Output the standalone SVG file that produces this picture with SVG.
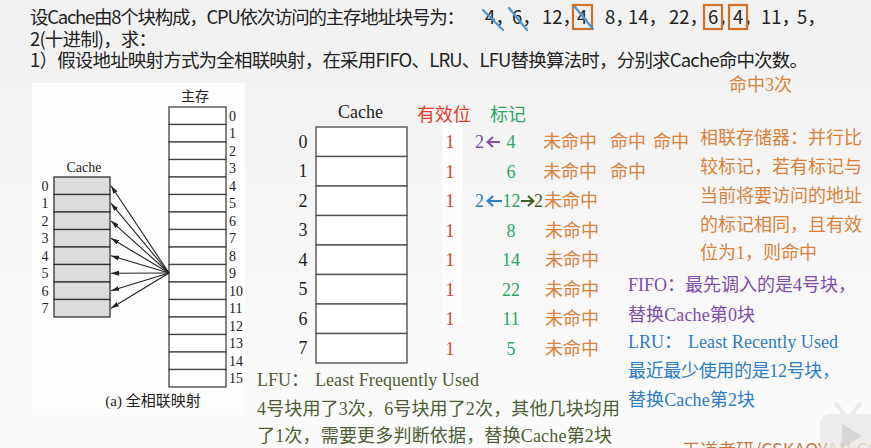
<svg xmlns="http://www.w3.org/2000/svg" width="871" height="448" viewBox="0 0 871 448">
<defs>
<linearGradient id="bg" x1="0" y1="0" x2="0" y2="1">
<stop offset="0" stop-color="#f1f1f1"/>
<stop offset="1" stop-color="#fbfbfb"/>
</linearGradient>
<marker id="ah" markerUnits="userSpaceOnUse" markerWidth="9" markerHeight="6" refX="8" refY="3" orient="auto">
<path d="M0,0.6 L8,3 L0,5.4 Z" fill="#222"/>
</marker>
<style>
.hd{font-family:"Noto Sans CJK SC","Liberation Sans",sans-serif;font-size:18.5px;fill:#222}
.sr{font-family:"Liberation Serif","Noto Sans CJK SC",serif}
.sm{font-size:14px;fill:#222}
.md{font-size:18px;fill:#222}
.t18{font-size:18px}
.red{fill:#e33b2b}
.grn{fill:#2ea466}
.org{fill:#d9823b}
.pur{fill:#7e4ea8}
.blu{fill:#2e7cc4}
.dgr{fill:#3e5e28}
.olv{fill:#4e5e34}
.cell{fill:#fff;stroke:#444;stroke-width:1.3}
.gcell{fill:#dcdcdc;stroke:#333;stroke-width:1.3}
.mcell{fill:#fff;stroke:#555;stroke-width:1.4}
.arr{stroke:#222;stroke-width:1.1;fill:none;marker-end:url(#ah)}
.box{fill:none;stroke:#d06f25;stroke-width:2.2}
.cross{stroke:#4a95d6;stroke-width:2.2;stroke-linecap:round}
</style>
</defs>
<rect x="0" y="0" width="871" height="448" fill="url(#bg)"/>
<rect x="32" y="83" width="213" height="332" fill="#fdfdfd"/>
<rect x="442" y="121" width="21" height="205" fill="#fcfcfc"/>

<g id="header">
<text class="hd" x="30" y="24" textLength="435" lengthAdjust="spacing">设Cache由8个块构成，CPU依次访问的主存地址块号为：</text>
<text class="hd" y="24"><tspan x="485">4，</tspan><tspan x="512">6，</tspan><tspan x="542">12，</tspan><tspan x="577">4</tspan><tspan x="605">8，</tspan><tspan x="628">14，</tspan><tspan x="669">22，</tspan><tspan x="708">6，</tspan><tspan x="733">4，</tspan><tspan x="761">11，</tspan><tspan x="797">5，</tspan></text>
<text class="hd" x="30" y="46" textLength="127" lengthAdjust="spacing">2(十进制)，求：</text>
<text class="hd" x="30" y="67" textLength="778" lengthAdjust="spacing">1）假设地址映射方式为全相联映射，在采用FIFO、LRU、LFU替换算法时，分别求Cache命中次数。</text>
<rect class="box" x="573" y="5" width="19" height="24"/>
<rect class="box" x="704" y="5" width="18" height="24"/>
<rect class="box" x="729" y="5" width="18" height="24"/>
<line class="cross" x1="483" y1="10" x2="503" y2="30"/>
<line class="cross" x1="509" y1="8" x2="527" y2="30"/>
<line class="cross" x1="575" y1="7" x2="593" y2="29"/>
</g>

<g id="fig-a">
<text class="sr sm" x="195" y="101" text-anchor="middle">主存</text>
<g id="main-memory">
<rect class="cell" x="169" y="107" width="57" height="17.5"/>
<rect class="cell" x="169" y="124.5" width="57" height="17.5"/>
<rect class="cell" x="169" y="142" width="57" height="17.5"/>
<rect class="cell" x="169" y="159.5" width="57" height="17.5"/>
<rect class="cell" x="169" y="177" width="57" height="17.5"/>
<rect class="cell" x="169" y="194.5" width="57" height="17.5"/>
<rect class="cell" x="169" y="212" width="57" height="17.5"/>
<rect class="cell" x="169" y="229.5" width="57" height="17.5"/>
<rect class="cell" x="169" y="247" width="57" height="17.5"/>
<rect class="cell" x="169" y="264.5" width="57" height="17.5"/>
<rect class="cell" x="169" y="282" width="57" height="17.5"/>
<rect class="cell" x="169" y="299.5" width="57" height="17.5"/>
<rect class="cell" x="169" y="317" width="57" height="17.5"/>
<rect class="cell" x="169" y="334.5" width="57" height="17.5"/>
<rect class="cell" x="169" y="352" width="57" height="17.5"/>
<rect class="cell" x="169" y="369.5" width="57" height="17.5"/>
<g class="sr sm">
<text x="229" y="120.5">0</text>
<text x="229" y="138">1</text>
<text x="229" y="155.5">2</text>
<text x="229" y="173">3</text>
<text x="229" y="190.5">4</text>
<text x="229" y="208">5</text>
<text x="229" y="225.5">6</text>
<text x="229" y="243">7</text>
<text x="229" y="260.5">8</text>
<text x="229" y="278">9</text>
<text x="229" y="295.5">10</text>
<text x="229" y="313">11</text>
<text x="229" y="330.5">12</text>
<text x="229" y="348">13</text>
<text x="229" y="365.5">14</text>
<text x="229" y="383">15</text>
</g>
</g>
<g id="small-cache">
<text class="sr sm" x="84" y="172" text-anchor="middle">Cache</text>
<rect class="gcell" x="54" y="177" width="56" height="17.5"/>
<rect class="gcell" x="54" y="194.5" width="56" height="17.5"/>
<rect class="gcell" x="54" y="212" width="56" height="17.5"/>
<rect class="gcell" x="54" y="229.5" width="56" height="17.5"/>
<rect class="gcell" x="54" y="247" width="56" height="17.5"/>
<rect class="gcell" x="54" y="264.5" width="56" height="17.5"/>
<rect class="gcell" x="54" y="282" width="56" height="17.5"/>
<rect class="gcell" x="54" y="299.5" width="56" height="17.5"/>
<g class="sr sm" text-anchor="middle">
<text x="45" y="190.5">0</text>
<text x="45" y="208">1</text>
<text x="45" y="225.5">2</text>
<text x="45" y="243">3</text>
<text x="45" y="260.5">4</text>
<text x="45" y="278">5</text>
<text x="45" y="295.5">6</text>
<text x="45" y="313">7</text>
</g>
</g>
<text class="sr" x="153" y="406" font-size="15" fill="#222" text-anchor="middle">(a) 全相联映射</text>
</g>

<g id="connectors">
<line class="arr" x1="169" y1="273" x2="111" y2="185.8"/>
<line class="arr" x1="169" y1="273" x2="111" y2="203.3"/>
<line class="arr" x1="169" y1="273" x2="111" y2="220.8"/>
<line class="arr" x1="169" y1="273" x2="111" y2="238.3"/>
<line class="arr" x1="169" y1="273" x2="111" y2="255.8"/>
<line class="arr" x1="169" y1="273" x2="111" y2="273.3"/>
<line class="arr" x1="169" y1="273" x2="111" y2="290.8"/>
<line class="arr" x1="169" y1="273" x2="111" y2="308.3"/>
</g>

<g id="cache-table">
<text class="sr md" x="360.5" y="118" text-anchor="middle">Cache</text>
<rect class="mcell" x="316" y="127" width="91" height="29.5"/>
<rect class="mcell" x="316" y="156.5" width="91" height="29.5"/>
<rect class="mcell" x="316" y="186" width="91" height="29.5"/>
<rect class="mcell" x="316" y="215.5" width="91" height="29.5"/>
<rect class="mcell" x="316" y="245" width="91" height="29.5"/>
<rect class="mcell" x="316" y="274.5" width="91" height="29.5"/>
<rect class="mcell" x="316" y="304" width="91" height="29.5"/>
<rect class="mcell" x="316" y="333.5" width="91" height="29.5"/>
<g class="sr md" text-anchor="middle">
<text x="303" y="147.5">0</text>
<text x="303" y="177">1</text>
<text x="303" y="206.5">2</text>
<text x="303" y="236">3</text>
<text x="303" y="265.5">4</text>
<text x="303" y="295">5</text>
<text x="303" y="324.5">6</text>
<text x="303" y="354">7</text>
</g>
</g>

<g id="valid-column">
<text class="sr t18 red" x="417" y="121">有效位</text>
<g class="sr t18 red" text-anchor="middle">
<text x="450" y="148">1</text>
<text x="450" y="177.5">1</text>
<text x="450" y="207">1</text>
<text x="450" y="236.5">1</text>
<text x="450" y="266">1</text>
<text x="450" y="295.5">1</text>
<text x="450" y="325">1</text>
<text x="450" y="354.5">1</text>
</g>
</g>

<g id="tag-column">
<text class="sr t18 grn" x="490" y="121">标记</text>
<g class="sr t18 grn" text-anchor="middle">
<text x="511" y="148">4</text>
<text x="511" y="177.5">6</text>
<text x="511.5" y="207">12</text>
<text x="511" y="236.5">8</text>
<text x="511" y="266">14</text>
<text x="511" y="295.5">22</text>
<text x="511" y="325">11</text>
<text x="511" y="354.5">5</text>
</g>
<text class="sr t18 pur" x="475" y="148">2</text>
<path d="M500,142 H488 M493,137 L487.5,142 L493,147" stroke="#7e4ea8" stroke-width="2" fill="none"/>
<text class="sr t18 blu" x="475" y="207">2</text>
<path d="M502,201 H488 M493,196 L487.5,201 L493,206" stroke="#2e7cc4" stroke-width="2" fill="none"/>
<path d="M521,201 H533 M528,196 L533.5,201 L528,206" stroke="#3e5e28" stroke-width="2" fill="none"/>
<text class="sr t18 dgr" x="534" y="207">2</text>
</g>

<g id="hit-marks" class="sr t18 org">
<text x="543" y="148">未命中</text>
<text x="610" y="148">命中</text>
<text x="653" y="148">命中</text>
<text x="543" y="177.5">未命中</text>
<text x="610" y="177.5">命中</text>
<text x="544" y="207">未命中</text>
<text x="545" y="236.5">未命中</text>
<text x="545" y="266">未命中</text>
<text x="545" y="295.5">未命中</text>
<text x="545" y="325">未命中</text>
<text x="545" y="354.5">未命中</text>
<text x="729" y="91">命中3次</text>
</g>

<g id="assoc-note" class="sr t18 org">
<text x="700" y="144">相联存储器：并行比</text>
<text x="700" y="173">较标记，若有标记与</text>
<text x="700" y="202">当前将要访问的地址</text>
<text x="700" y="230.5">的标记相同，且有效</text>
<text x="700" y="259">位为1，则命中</text>
</g>

<g id="fifo-note" class="sr t18 pur">
<text x="628" y="291" textLength="228" lengthAdjust="spacing">FIFO：最先调入的是4号块，</text>
<text x="628" y="321" textLength="127" lengthAdjust="spacing">替换Cache第0块</text>
</g>

<g id="lru-note" class="sr t18 blu">
<text x="628" y="348">LRU：</text>
<text x="688" y="348" textLength="150" lengthAdjust="spacing">Least Recently Used</text>
<text x="628" y="377" textLength="212" lengthAdjust="spacing">最近最少使用的是12号块，</text>
<text x="628" y="406" textLength="127" lengthAdjust="spacing">替换Cache第2块</text>
</g>

<g id="lfu-note" class="sr t18 olv">
<text x="257" y="386">LFU：</text>
<text x="315" y="386" textLength="164" lengthAdjust="spacing">Least Frequently Used</text>
<text x="257" y="415" textLength="363" lengthAdjust="spacing">4号块用了3次，6号块用了2次，其他几块均用</text>
<text x="257" y="442" textLength="355" lengthAdjust="spacing">了1次，需要更多判断依据，替换Cache第2块</text>
</g>

<g id="watermark">
<text x="682" y="457" font-family="Noto Sans CJK SC, sans-serif" font-size="18" fill="#c8783c">王道考研/CSKAOY<tspan fill="#e6c9a8">AN.COM</tspan></text>
<g opacity="0.55">
<rect x="820" y="414" width="60" height="44" rx="9" fill="#e2e2e2"/>
<path d="M836,404 L844,414 M860,404 L852,414" stroke="#e2e2e2" stroke-width="4" stroke-linecap="round"/>
<path d="M842,424 L862,436 L842,448 Z" fill="#b8b8b8"/>
</g>
</g>
</svg>
